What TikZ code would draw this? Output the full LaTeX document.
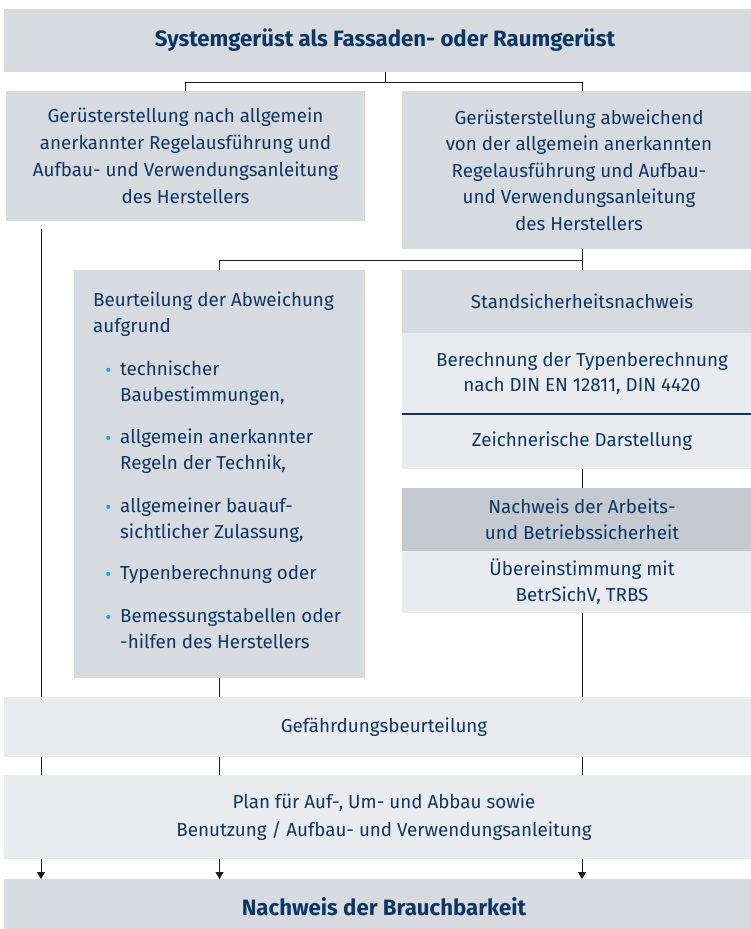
\documentclass[tikz,border=0pt]{standalone}
\usepackage{fontspec}
\setmainfont{Fira Sans}
\usetikzlibrary{arrows.meta,backgrounds}
\definecolor{boxgray}{HTML}{D7DADF}
\definecolor{boxlight}{HTML}{E9EBEF}
\definecolor{boxdark}{HTML}{C5C9D0}
\definecolor{navy}{HTML}{0C3764}
\definecolor{dotblue}{HTML}{1EA7E1}
\definecolor{linec}{HTML}{1A1A1A}
\newcommand{\bul}{\hspace*{13pt}\tikz[baseline=-5.5pt]\fill[dotblue] (0pt,0pt) circle (2.1pt);}
\begin{document}
\begin{tikzpicture}[x=1pt,y=-1pt,
  box/.style={anchor=north west, inner sep=0pt, outer sep=0pt, text=navy,
    align=center, font=\fontsize{18.8}{26.5}\selectfont},
  conn/.style={draw=linec, line width=1pt},
  arr/.style={conn, -{Triangle[width=8pt,length=7pt]}},
  title/.style={font=\fontsize{22.2}{26}\selectfont\bfseries}
]
\useasboundingbox (0,0) rectangle (751,929);
\clip (0,0) rectangle (751,929);

\node[box, title, fill=boxgray, minimum width=762pt, minimum height=63pt] (top) at (4,9)
  {Systemgerüst als Fassaden- oder Raumgerüst};
\node[box, fill=boxgray, minimum width=359pt, minimum height=130pt, font=\fontsize{18.8}{27}\selectfont] (L) at (6,91)
  {Gerüsterstellung nach allgemein\\anerkannter Regelausführung und\\Aufbau- und Verwendungsanleitung\\des Herstellers};
\node[box, fill=boxgray, minimum width=354pt, minimum height=158pt] (R) at (402,91)
  {Gerüsterstellung abweichend\\von der allgemein anerkannten\\Regelausführung und Aufbau-\\und Verwendungsanleitung\\des Herstellers};
\node[box, fill=boxgray, minimum width=291pt, minimum height=408pt] (ml) at (74,270) {};
\node[anchor=north west, inner sep=0pt, text=navy, font=\fontsize{18.8}{26}\selectfont] (mltext) at (93,288)
  {\begin{tabular}{@{}p{27pt}@{}l@{}}
   \multicolumn{2}{@{}l@{}}{Beurteilung der Abweichung}\\
   \multicolumn{2}{@{}l@{}}{aufgrund}\\[17pt]
   \bul & technischer\\
        & Baubestimmungen,\\[16pt]
   \bul & allgemein anerkannter\\
        & Regeln der Technik,\\[17pt]
   \bul & allgemeiner bauauf-\\
        & sichtlicher Zulassung,\\[15pt]
   \bul & Typenberechnung oder\\[17pt]
   \bul & Bemessungstabellen oder\\
        & -hilfen des Herstellers
   \end{tabular}};

\node[box, fill=boxgray, minimum width=360pt, minimum height=63pt] (ss) at (402,270)
  {Standsicherheitsnachweis};
\node[box, fill=boxlight, minimum width=360pt, minimum height=81pt, font=\fontsize{18.8}{25}\selectfont] (be) at (402,333)
  {Berechnung der Typenberechnung\\nach DIN EN 12811, DIN 4420};
\node[box, fill=boxlight, minimum width=360pt, minimum height=55pt] (zd) at (402,414)
  {Zeichnerische Darstellung};
\draw[navy, line width=1.5pt] (be.south west) -- (be.south east);
\node[box, fill=boxdark, minimum width=360pt, minimum height=63pt, font=\fontsize{18.8}{26}\selectfont] (na) at (402,488)
  {Nachweis der Arbeits-\\und Betriebssicherheit};
\node[box, fill=boxlight, minimum width=360pt, minimum height=62pt, font=\fontsize{18.8}{26}\selectfont] (ub) at (402,551)
  {Übereinstimmung mit\\BetrSichV, TRBS};

\node[box, fill=boxlight, minimum width=760pt, minimum height=60pt] (gef) at (4,697)
  {Gefährdungsbeurteilung};
\node[box, fill=boxlight, minimum width=760pt, minimum height=84pt, font=\fontsize{18.8}{28}\selectfont] (plan) at (4,775)
  {Plan für Auf-, Um- und Abbau sowie\\Benutzung / Aufbau- und Verwendungsanleitung};
\node[box, title, fill=boxgray, minimum width=760pt, minimum height=56pt] (nb) at (4,879)
  {Nachweis der Brauchbarkeit};

\coordinate (lstart) at (41,229);

\begin{scope}[on background layer]
  \draw[conn] (top.south) -- ++(0,10) -| (L.north);
  \draw[conn] (top.south) ++(0,10) -| (R.north -| ss.north);
  \draw[conn] (R.south -| ss.north) -- ++(0,11) -| (ml.north);
  \draw[conn] (R.south -| ss.north) -- (ss.north);
  \draw[conn] (zd.south) -- (na.north);
  \draw[arr] (lstart) -- (lstart |- nb.north);
  \draw[arr] (ml.south) -- (ml.south |- nb.north);
  \draw[arr] (ub.south) -- (ub.south |- nb.north);
\end{scope}
\end{tikzpicture}
\end{document}
